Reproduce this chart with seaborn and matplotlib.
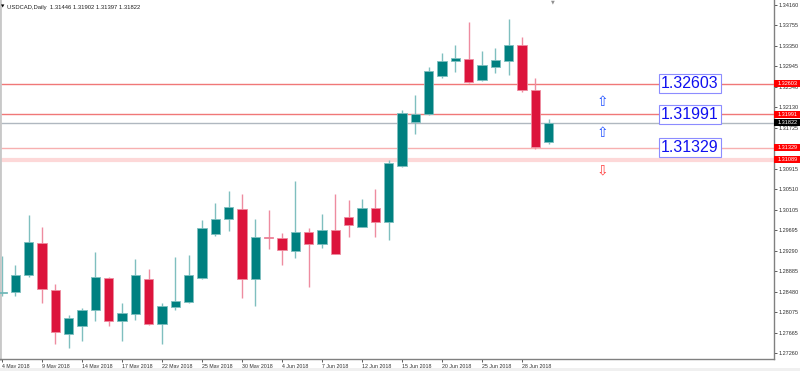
import matplotlib
matplotlib.use("Agg")
import matplotlib.pyplot as plt
from matplotlib.patches import Rectangle
import numpy as np
import pandas as pd
import seaborn as sns

sns.set_style("white")
plt.rcParams['font.family'] = ['Liberation Sans', 'DejaVu Sans']

# daily USDCAD candles, 4 May 2018 .. 2 Jul 2018
opens = [1.28460, 1.28472, 1.28802, 1.29449, 1.28506, 1.27636, 1.27788, 1.28116, 1.28757, 1.27887,
         1.28031, 1.28737, 1.27840, 1.28176, 1.28263, 1.28749, 1.29613, 1.29909, 1.30121, 1.28729,
         1.29554, 1.29534, 1.29291, 1.29666, 1.29421, 1.29706, 1.29963, 1.29765, 1.30133, 1.29864,
         1.30963, 1.31833, 1.31999, 1.32756, 1.33059, 1.33086, 1.32677, 1.32940, 1.33059, 1.33369,
         1.32466, 1.31446]
highs = [1.29178, 1.29000, 1.29989, 1.29757, 1.28619, 1.28012, 1.28144, 1.29263, 1.28777, 1.28243,
         1.29119, 1.28921, 1.28243, 1.29164, 1.29211, 1.29890, 1.30226, 1.30477, 1.30410, 1.29909,
         1.30087, 1.29647, 1.30680, 1.29732, 1.30022, 1.30404, 1.30285, 1.30305, 1.30522, 1.31096,
         1.32084, 1.32381, 1.32928, 1.33217, 1.33369, 1.33830, 1.33251, 1.33304, 1.33877, 1.33533,
         1.32711, 1.31902]
lows = [1.28387, 1.28393, 1.28769, 1.28249, 1.27432, 1.27353, 1.27498, 1.27899, 1.27788, 1.27498,
        1.27919, 1.27820, 1.27432, 1.28116, 1.28249, 1.28737, 1.29579, 1.29678, 1.28354, 1.28195,
        1.29316, 1.29006, 1.29144, 1.28579, 1.29350, 1.29225, 1.29560, 1.29760, 1.29560, 1.29500,
        1.30950, 1.31604, 1.31971, 1.32711, 1.32841, 1.32612, 1.32657, 1.32810, 1.32776, 1.32426,
        1.31307, 1.31397]
closes = [1.28466, 1.28802, 1.29461, 1.28526, 1.27669, 1.27946, 1.28116, 1.28763, 1.27899, 1.28051,
          1.28816, 1.27840, 1.28189, 1.28282, 1.28816, 1.29732, 1.29923, 1.30147, 1.28729, 1.29560,
          1.29534, 1.29303, 1.29666, 1.29421, 1.29706, 1.29231, 1.29797, 1.30133, 1.29864, 1.31036,
          1.32019, 1.31999, 1.32861, 1.33053, 1.33106, 1.32624, 1.32974, 1.33073, 1.33369, 1.32480,
          1.31347, 1.31822]

date_labels = ["4 May 2018", "9 May 2018", "14 May 2018", "17 May 2018", "22 May 2018",
               "25 May 2018", "30 May 2018", "4 Jun 2018", "7 Jun 2018", "12 Jun 2018",
               "15 Jun 2018", "20 Jun 2018", "25 Jun 2018", "28 Jun 2018"]
price_ticks = [1.27260, 1.27665, 1.28075, 1.28480, 1.28885, 1.29290, 1.29695, 1.30105, 1.30510,
               1.30915, 1.31320, 1.31725, 1.32130, 1.32540, 1.32945, 1.33350, 1.33755, 1.34160]
levels = [1.32603, 1.31991, 1.31329]
support = 1.31089
last_price = 1.31822
header = "USDCAD,Daily  1.31446 1.31902 1.31397 1.31822"

df = pd.DataFrame({"open": opens, "high": highs, "low": lows, "close": closes})
df["bar"] = np.arange(len(df))
df["up"] = df["close"] >= df["open"]

TEAL, RED = "#008080", "#dc143c"

fig = plt.figure(figsize=(8, 3.71), dpi=100)
ax = fig.add_axes([0, 12 / 371, 774 / 800, 359 / 371])

# level lines
ax.axhline(levels[0], color="#f07878", lw=1, zorder=1)
ax.axhline(levels[1], color="#f07878", lw=1, zorder=1)
ax.axhline(last_price, color="#b0b8c0", lw=1, zorder=1)
ax.axhline(levels[2], color="#f7b0b0", lw=1, zorder=1)
ax.axhline(support, color="#fdd8d8", lw=3, zorder=1)

# candles
for up, color, light in [(True, TEAL, "#7fbfbf"), (False, RED, "#ee8ca0")]:
    d = df[df["up"] == up]
    ax.vlines(d["bar"], d["low"], d["high"], colors=light, lw=1, zorder=2)
    body = (d["close"] - d["open"]).abs().clip(lower=0.00008)
    ax.bar(d["bar"], body, bottom=d[["open", "close"]].min(axis=1), width=0.72,
           color=color, edgecolor=light, lw=0.6, zorder=3)

ax.set_xlim(-0.15, 57.9)
ax.set_ylim(1.27142, 1.34259)

# level boxes
for lv in levels:
    ax.text(51.6, lv, f"{lv:.5f}", fontsize=11.5, color="#1010f0", ha="center", va="center",
            zorder=5, bbox=dict(boxstyle="square,pad=0.12", fc="white", ec="#8c8cff", lw=0.8))

# arrows
ax.text(45.0, (levels[0] + levels[1]) / 2 - 0.0006, "\u21e7", fontsize=10, color="#2050ff",
        ha="center", va="center", zorder=5, family=["DejaVu Sans"])
ax.text(45.0, (levels[1] + levels[2]) / 2 - 0.0003, "\u21e7", fontsize=10, color="#2050ff",
        ha="center", va="center", zorder=5, family=["DejaVu Sans"])
ax.text(45.0, support - 0.0020, "\u21e9", fontsize=10, color="#ff4040",
        ha="center", va="center", zorder=5, family=["DejaVu Sans"])

# right price axis
ax.yaxis.tick_right()
ax.set_yticks(price_ticks)
ax.set_yticklabels([f"{t:.5f}" for t in price_ticks])
ax.tick_params(axis="y", labelsize=4.0, length=2, width=0.6, color="#404040",
               labelcolor="#303030", pad=1.5, right=True)

ytr = ax.get_yaxis_transform()
half = 0.00068
for lv, fc in [(levels[0], "#ff0000"), (levels[1], "#ff0000"), (last_price, "#000000"),
               (levels[2], "#ff0000"), (support, "#ff0000")]:
    ax.add_patch(Rectangle((1.0, lv - half), 26 / 774, 2 * half, transform=ytr, fc=fc,
                           ec="none", clip_on=False, zorder=6))
    ax.text(1.0 + 4 / 774, lv, f"{lv:.5f}", transform=ytr, ha="left", va="center",
            fontsize=4.0, color="white", clip_on=False, zorder=7)

# date axis
ax.set_xticks(df["bar"][::3])
ax.set_xticklabels(date_labels, ha="left")
ax.tick_params(axis="x", labelsize=3.8, length=2, width=0.6, color="#404040",
               labelcolor="#303030", pad=1.5, bottom=True)

for side in ["left", "bottom", "right"]:
    ax.spines[side].set_color("#808080")
    ax.spines[side].set_linewidth(1)
ax.spines["left"].set_color("#c8c8c8")
ax.spines["left"].set_linewidth(2)
ax.spines["top"].set_visible(False)

fig.text(1 / 800, 1 - 7 / 371, "\u25bc", fontsize=3.2, color="#000000", va="center",
         family=["DejaVu Sans"])
fig.text(7 / 800, 1 - 7 / 371, header, fontsize=4.2, color="#202020", va="center")
fig.text(553 / 800, 1 - 2 / 371, "\u25bc", fontsize=3.5, color="#909090", va="center",
         ha="center", family=["DejaVu Sans"])
fig.patches.append(Rectangle((0, 0), 1, 3 / 371, transform=fig.transFigure,
                             fc="#f0f0f0", ec="none"))

fig.savefig("out.png", dpi=100)
